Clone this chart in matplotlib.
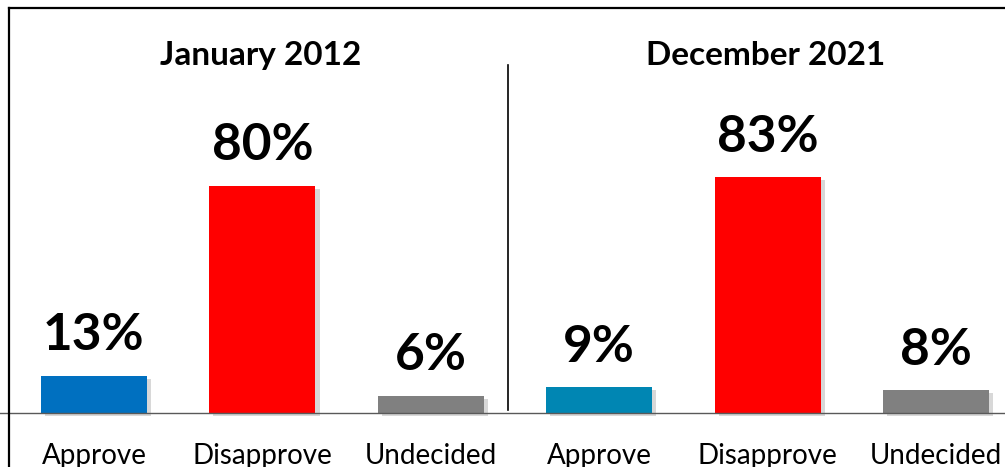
import matplotlib.pyplot as plt
import matplotlib.patheffects as pe
from matplotlib.lines import Line2D

# data
periods = ["January 2012", "December 2021"]
categories = ["Approve", "Disapprove", "Undecided"]
jan_2012 = [13, 80, 6]
dec_2021 = [9, 83, 8]
jan_colors = ["#0070C0", "#FF0000", "#808080"]
dec_colors = ["#0086B3", "#FF0000", "#808080"]

plt.rcParams['font.family'] = ['Lato', 'DejaVu Sans']

fig = plt.figure(figsize=(10.05, 4.67), dpi=100)
ax = fig.add_axes([0, 0, 1, 1])

x = list(range(6))
values = jan_2012 + dec_2021
colors = jan_colors + dec_colors
labels = categories + categories

shadow = [pe.SimplePatchShadow(offset=(3, -2), shadow_rgbFace='#aaaaaa', alpha=0.45), pe.Normal()]
bars = ax.bar(x, values, width=0.63, color=colors, zorder=3)
for b in bars:
    b.set_path_effects(shadow)

# value labels
for xi, v in zip(x, values):
    ax.annotate(f"{v}%", (xi, v), xytext=(0, 12), textcoords='offset points',
                ha='center', va='bottom', fontsize=37, fontweight='bold', color='black')

# category labels under the baseline
for xi, lab in zip(x, labels):
    ax.text(xi, -10.5, lab, ha='center', va='top', fontsize=20, color='black')

# period titles
for xi, p in zip([1, 4], periods):
    ax.text(xi - 0.01, 126, p, ha='center', va='center', fontsize=24, fontweight='bold', color='black')

ax.set_xlim(-0.558, 5.41)
ax.set_ylim(-19.0, 145.4)
ax.axhline(0, color='#595959', lw=1, zorder=4)
ax.plot([2.46, 2.46], [1, 122.5], color='black', lw=1.2)
ax.axis('off')

# outer frame (cropped at right and bottom)
fx = 8.5 / 1005
fy = 1 - 7.5 / 467
fig.add_artist(Line2D([fx, fx], [0, fy], transform=fig.transFigure, color='black', lw=1.6))
fig.add_artist(Line2D([fx, 1], [fy, fy], transform=fig.transFigure, color='black', lw=1.6))

plt.savefig('out.png', dpi=100)
